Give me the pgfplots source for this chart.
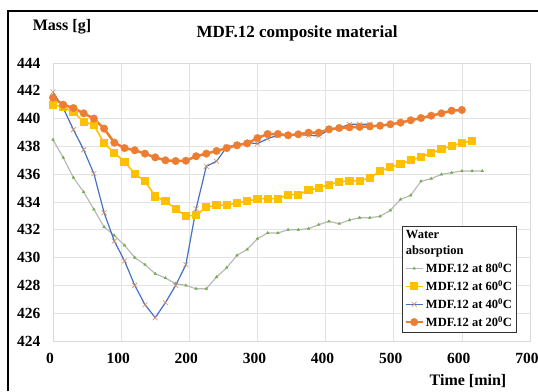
\documentclass[border=0pt]{standalone}
\usepackage{fontspec}
\setmainfont{Liberation Serif}
\usepackage{pgfplots}
\pgfplotsset{compat=1.18}
\definecolor{cgreen}{HTML}{70AD47}
\definecolor{cyel}{HTML}{FFC000}
\definecolor{cblue}{HTML}{4472C4}
\definecolor{corange}{HTML}{ED7D31}
\definecolor{cx}{RGB}{205,140,110}
\begin{document}
\begin{tikzpicture}
\path[use as bounding box] (0pt,0pt) rectangle (538pt,391pt);
\draw[line width=1.8pt] (8pt,0pt) -- (8pt,380pt) -- (540pt,380pt);
\node[font=\fontsize{17}{18}\selectfont\bfseries] at (297pt,358pt) {MDF.12 composite material};
\node[font=\fontsize{16}{17}\selectfont\bfseries] at (62pt,364pt) {Mass [g]};
\node[font=\fontsize{16}{17}\selectfont\bfseries] at (468pt,10pt) {Time [min]};
\begin{axis}[
  at={(53pt,50pt)}, anchor=south west,
  width=477pt, height=278pt, scale only axis,
  xmin=0, xmax=700, ymin=424, ymax=444,
  xtick={0,100,...,700}, ytick={424,426,...,444},
  grid=major, grid style={gray!22, line width=0.7pt},
  axis line style={gray!30, line width=0.7pt},
  major tick length=0pt,
  /pgf/number format/assume math mode=true,
  tick label style={font=\fontsize{15.5}{16}\selectfont\bfseries},
  yticklabel style={xshift=-9pt},
  xticklabel style={yshift=-9pt, xshift=-3pt},
  legend cell align=left,
  legend style={at={(0.971,0.032)}, anchor=south east, draw=black!80, fill=white,
    font=\fontsize{12.5}{13}\selectfont\bfseries, row sep=2.2pt, inner sep=2pt},
]
\addlegendimage{empty legend}\addlegendentry{\hspace*{-20pt}Water}
\addlegendimage{empty legend}\addlegendentry{\hspace*{-20pt}absorption}
\addplot[gray!55, line width=1.2pt, mark=triangle*, mark size=1.6pt,
  mark options={fill=cgreen, draw=cgreen, line width=0.3pt}] coordinates {
(0,438.48)(15,437.19)(30,435.75)(45,434.72)(60,433.47)(75,432.2)(90,431.6)(105,430.88)
(120,430.0)(135,429.49)(150,428.84)(165,428.53)(180,428.12)(195,428.0)(210,427.76)
(225,427.76)(240,428.6)(255,429.28)(270,430.16)(285,430.59)(300,431.36)(315,431.77)
(330,431.77)(345,432.0)(360,432.0)(375,432.08)(390,432.37)(405,432.61)(420,432.44)
(435,432.7)(450,432.87)(465,432.87)(480,432.97)(495,433.4)(510,434.19)(525,434.48)
(540,435.49)(555,435.68)(570,435.99)(585,436.11)(600,436.23)(615,436.23)(630,436.23)};
\addlegendentry{MDF.12 at 80\textsuperscript{0}C}
\addplot[cyel, line width=1.6pt, mark=square*, mark size=3.3pt,
  mark options={fill=cyel, draw=cyel}] coordinates {
(0,441.0)(15,440.83)(30,440.47)(45,439.78)(60,439.54)(75,438.22)(90,437.53)(105,436.9)
(120,436.04)(135,435.5)(150,434.4)(165,434.05)(180,433.52)(195,433.0)(210,433.04)
(225,433.64)(240,433.76)(255,433.78)(270,433.93)(285,434.05)(300,434.24)(315,434.24)
(330,434.24)(345,434.53)(360,434.53)(375,434.84)(390,435.03)(405,435.25)(420,435.44)
(435,435.53)(450,435.53)(465,435.73)(480,436.23)(495,436.49)(510,436.73)(525,437.0)
(540,437.24)(555,437.53)(570,437.79)(585,438.05)(600,438.24)(615,438.41)};
\addlegendentry{MDF.12 at 60\textsuperscript{0}C}
\addplot[cblue, line width=1.2pt, mark=x, mark size=3.5pt,
  mark options={draw=cx, line width=0.6pt}] coordinates {
(0,441.91)(15,440.76)(30,439.2)(45,437.76)(60,436.04)(75,433.23)(90,431.19)(105,429.76)
(120,428.0)(135,426.61)(150,425.68)(165,426.76)(180,428.0)(195,429.49)(210,433.52)
(225,436.57)(240,436.93)(255,437.96)(270,438.12)(285,438.27)(300,438.2)(315,438.56)
(330,438.8)(345,438.77)(360,438.85)(375,438.8)(390,438.75)(405,439.2)(420,439.32)
(435,439.59)(450,439.59)(465,439.59)};
\addlegendentry{MDF.12 at 40\textsuperscript{0}C}
\addplot[corange, line width=2.5pt, mark=*, mark size=3.8pt,
  mark options={fill=corange, draw=corange, line width=0.3pt}] coordinates {
(0,441.5)(15,441.0)(30,440.76)(45,440.38)(60,440.0)(75,439.28)(90,438.27)(105,437.88)
(120,437.72)(135,437.48)(150,437.21)(165,437.0)(180,436.95)(195,436.97)(210,437.29)
(225,437.48)(240,437.67)(255,437.88)(270,438.08)(285,438.22)(300,438.6)(315,438.89)
(330,438.89)(345,438.8)(360,438.87)(375,438.99)(390,438.99)(405,439.23)(420,439.32)
(435,439.37)(450,439.4)(465,439.44)(480,439.49)(495,439.59)(510,439.71)(525,439.88)
(540,440.04)(555,440.21)(570,440.38)(585,440.57)(600,440.62)};
\addlegendentry{MDF.12 at 20\textsuperscript{0}C}
\end{axis}
\end{tikzpicture}
\end{document}
